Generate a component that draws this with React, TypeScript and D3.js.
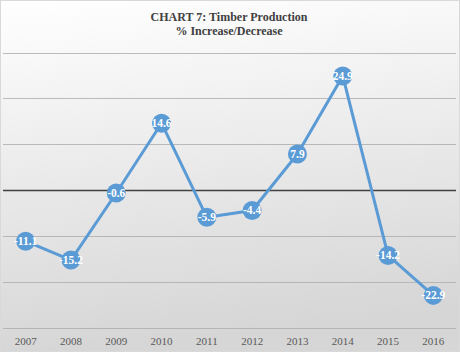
import React, { useEffect, useRef } from 'react';
import * as d3 from 'd3';

const years = ['2007', '2008', '2009', '2010', '2011', '2012', '2013', '2014', '2015', '2016'];
const change = [-11.1, -15.2, -0.6, 14.6, -5.9, -4.4, 7.9, 24.9, -14.2, -22.9];
const gridTicks = [30, 20, 10, 0, -10, -20, -30];
const titleLines = ['CHART 7: Timber Production', '% Increase/Decrease'];

const WIDTH = 460;
const HEIGHT = 352;

export default function App() {
    const ref = useRef<SVGSVGElement>(null);

    useEffect(() => {
        const svg = d3.select(ref.current);
        svg.selectAll('*').remove();

        const x = d3.scaleBand().domain(years).range([3, 456]);
        const y = d3.scaleLinear().domain([-30, 30]).range([328, 52.5]);

        const defs = svg.append('defs');
        const grad = defs.append('linearGradient')
            .attr('id', 'bg')
            .attr('x1', 0).attr('y1', 0).attr('x2', 0.15).attr('y2', 1);
        grad.append('stop').attr('offset', '0%').attr('stop-color', '#ffffff');
        grad.append('stop').attr('offset', '100%').attr('stop-color', '#d6d6d6');

        svg.append('rect')
            .attr('x', 0.5).attr('y', 0.5)
            .attr('width', WIDTH - 1).attr('height', HEIGHT - 1)
            .attr('fill', 'url(#bg)')
            .attr('stroke', '#d9d9d9');

        // title
        svg.append('g').selectAll('text')
            .data(titleLines)
            .enter().append('text')
            .attr('x', 229)
            .attr('y', (d, i) => 21 + i * 14)
            .attr('text-anchor', 'middle')
            .attr('font-family', '"Liberation Serif", serif')
            .attr('font-weight', 'bold')
            .attr('font-size', 12)
            .attr('fill', '#404040')
            .text(d => d);

        // gridlines
        svg.append('g').selectAll('line')
            .data(gridTicks)
            .enter().append('line')
            .attr('x1', 3).attr('x2', 456)
            .attr('y1', d => Math.round(y(d)) + 0.5)
            .attr('y2', d => Math.round(y(d)) + 0.5)
            .attr('stroke', d => d === 0 ? '#404040' : '#ababab')
            .attr('stroke-opacity', d => d === 0 ? 1 : 0.8)
            .attr('stroke-width', d => d === 0 ? 1.5 : 1);

        // x labels
        svg.append('g').selectAll('text')
            .data(years)
            .enter().append('text')
            .attr('x', d => (x(d) as number) + x.bandwidth() / 2)
            .attr('y', 345)
            .attr('text-anchor', 'middle')
            .attr('font-family', '"Liberation Serif", serif')
            .attr('font-size', 11)
            .attr('fill', '#595959')
            .text(d => d);

        const pts = years.map((yr, i) => ({ yr, v: change[i] }));
        const line = d3.line<{ yr: string; v: number }>()
            .x(d => (x(d.yr) as number) + x.bandwidth() / 2)
            .y(d => y(d.v));

        svg.append('path')
            .datum(pts)
            .attr('d', line)
            .attr('fill', 'none')
            .attr('stroke', '#5b9bd5')
            .attr('stroke-width', 3)
            .attr('stroke-linejoin', 'round');

        const g = svg.append('g').selectAll('g')
            .data(pts)
            .enter().append('g')
            .attr('transform', d => 'translate(' + ((x(d.yr) as number) + x.bandwidth() / 2) + ',' + y(d.v) + ')');

        g.append('circle')
            .attr('r', 9.5)
            .attr('fill', '#5b9bd5');

        g.append('text')
            .attr('dy', '.35em')
            .attr('text-anchor', 'middle')
            .attr('font-family', '"Liberation Serif", serif')
            .attr('font-weight', 'bold')
            .attr('font-size', 11.5)
            .attr('fill', '#ffffff')
            .text(d => d.v.toFixed(1));
    }, []);

    return (
        <svg ref={ref} width={WIDTH} height={HEIGHT}
            style={{ position: 'absolute', left: 0, top: 0 }}></svg>
    );
}
